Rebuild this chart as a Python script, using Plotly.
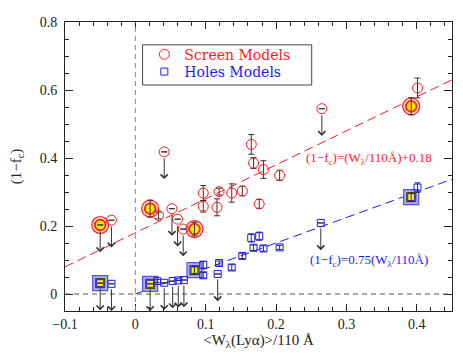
import plotly.graph_objects as go

# ---- Screen models (red circles) ----
scr_x = [-0.050, -0.034, 0.021, 0.033, 0.041, 0.052, 0.060, 0.068, 0.084, 0.0965, 0.0965, 0.116,
         0.119, 0.137, 0.152, 0.1647, 0.168, 0.176, 0.182, 0.205, 0.265, 0.392, 0.401]
scr_y = [0.203, 0.217, 0.251, 0.231, 0.418, 0.251, 0.220, 0.191, 0.191, 0.258, 0.297, 0.255,
         0.301, 0.297, 0.303, 0.440, 0.385, 0.265, 0.366, 0.349, 0.545, 0.552, 0.606]
scr_err = [0, 0, 0.025, 0.010, 0, 0, 0, 0, 0.020, 0.017, 0.022, 0.025,
           0.010, 0.027, 0.014, 0.029, 0.016, 0.013, 0.026, 0.015, 0, 0.025, 0.029]
scr_lim = [1, 1, 0, 0, 1, 1, 1, 1, 0, 0, 0, 0,
           0, 0, 0, 0, 0, 0, 0, 0, 1, 0, 0]
scr_hi = [1, 0, 1, 0, 0, 0, 0, 0, 1, 0, 0, 0,
          0, 0, 0, 0, 0, 0, 0, 0, 0, 1, 0]

# ---- Holes models (blue squares) ----
hol_x = [-0.050, -0.034, 0.021, 0.031, 0.041, 0.053, 0.061, 0.069, 0.084, 0.0965, 0.0965, 0.117,
         0.119, 0.137, 0.152, 0.1647, 0.168, 0.176, 0.182, 0.205, 0.2635, 0.392, 0.401]
hol_y = [0.032, 0.030, 0.030, 0.038, 0.033, 0.038, 0.040, 0.041, 0.070, 0.086, 0.055, 0.059,
         0.091, 0.078, 0.112, 0.165, 0.136, 0.170, 0.134, 0.137, 0.209, 0.285, 0.313]
hol_err = [0, 0, 0, 0.005, 0, 0, 0, 0, 0.010, 0.010, 0.008, 0,
           0.006, 0.008, 0.008, 0.012, 0.008, 0.012, 0.008, 0.006, 0, 0.012, 0.014]
hol_lim = [1, 1, 1, 0, 1, 1, 1, 1, 0, 0, 0, 1,
           0, 0, 0, 0, 0, 0, 0, 0, 1, 0, 0]
hol_hi = [1, 0, 1, 0, 0, 0, 0, 0, 1, 0, 0, 0,
          0, 0, 0, 0, 0, 0, 0, 0, 0, 1, 0]

series_names = ["Screen Models", "Holes Models"]

# fit lines: (1-fc) = slope * W + intercept
fit_red = dict(slope=1.0, intercept=0.18, x=[-0.1, 0.45])
fit_blue = dict(slope=0.75, intercept=0.0, x=[0.0, 0.45])
limit_drop = 0.08

x_ticks = [-0.1, 0, 0.1, 0.2, 0.3, 0.4]
y_ticks = [0, 0.2, 0.4, 0.6, 0.8]

RED = "#ff1a1a"
BLUE = "#1a1aff"
SERIF = "Liberation Serif"

fig = go.Figure()

# fit lines
for fit, col in [(fit_red, RED), (fit_blue, BLUE)]:
    fig.add_trace(go.Scatter(
        x=fit["x"], y=[fit["slope"] * v + fit["intercept"] for v in fit["x"]],
        mode="lines", line=dict(color=col, width=1, dash="9px,5px"),
        showlegend=False, hoverinfo="skip"))

# highlight backgrounds
hx = [x for x, h in zip(scr_x, scr_hi) if h]
hy = [y for y, h in zip(scr_y, scr_hi) if h]
fig.add_trace(go.Scatter(x=hx, y=hy, mode="markers", showlegend=False,
                         marker=dict(symbol="circle", size=17, color="#ffd0d0",
                                     line=dict(color=RED, width=1.2))))
fig.add_trace(go.Scatter(x=hx, y=hy, mode="markers", showlegend=False,
                         marker=dict(symbol="circle", size=11, color="#ffe600",
                                     line=dict(color="#e04000", width=1.5))))
bx = [x for x, h in zip(hol_x, hol_hi) if h]
by = [y for y, h in zip(hol_y, hol_hi) if h]
fig.add_trace(go.Scatter(x=bx, y=by, mode="markers", showlegend=False,
                         marker=dict(symbol="square", size=15, color="#b0b0ff",
                                     line=dict(color="#5050ff", width=1.2))))
fig.add_trace(go.Scatter(x=bx, y=by, mode="markers", showlegend=False,
                         marker=dict(symbol="square", size=9, color="#ffe600",
                                     line=dict(color="#505000", width=1.2))))

# main series
def errs(e):
    return [v if v > 0 else None for v in e]

fig.add_trace(go.Scatter(
    x=scr_x, y=scr_y, mode="markers", showlegend=False, name=series_names[0],
    marker=dict(symbol="circle-open", size=10, color=RED, line=dict(width=1)),
    error_y=dict(type="data", array=errs(scr_err), color="#333333", thickness=1, width=3)))
fig.add_trace(go.Scatter(
    x=hol_x, y=hol_y, mode="markers", showlegend=False, name=series_names[1],
    marker=dict(symbol="square-open", size=7, color=BLUE, line=dict(width=1)),
    error_y=dict(type="data", array=errs(hol_err), color="#333333", thickness=1, width=3)))

# legend keys (each in its own legend so the text can take the series colour)
for nm, col, sym, sz, lg in [(series_names[0], RED, "circle-open", 10, "legend"),
                             (series_names[1], BLUE, "square-open", 7, "legend2")]:
    fig.add_trace(go.Scatter(
        x=[None], y=[None], mode="markers", name=nm, legend=lg,
        marker=dict(symbol=sym, size=sz, color=col, line=dict(width=1))))

# upper-limit arrows
for xs, ys, lims, sso in [(scr_x, scr_y, scr_lim, 5), (hol_x, hol_y, hol_lim, 4)]:
    for x, y, l in zip(xs, ys, lims):
        if l:
            fig.add_annotation(x=x, y=y - limit_drop, ax=x, ay=y, xref="x", yref="y",
                               axref="x", ayref="y", showarrow=True, arrowhead=4,
                               arrowsize=1.4, arrowwidth=1, arrowcolor="#333333",
                               startstandoff=sso, text="")

# reference lines
fig.add_shape(type="line", x0=0, x1=0, y0=-0.05, y1=0.8, xref="x", yref="y",
              line=dict(color="#888888", width=1, dash="5px,4px"))
fig.add_shape(type="line", x0=-0.1, x1=0.45, y0=0, y1=0, xref="x", yref="y",
              line=dict(color="#555555", width=1, dash="5px,4px"))
# legend frame
fig.add_shape(type="rect", x0=0.2005, x1=0.6375, y0=0.782, y1=0.921,
              xref="paper", yref="paper", line=dict(color="#444444", width=1),
              fillcolor="white", layer="above")

# equation labels
fig.add_annotation(x=0.424, y=0.40, xref="x", yref="y", showarrow=False, xanchor="right",
                   text="(1−f<sub>c</sub>)=(W<sub>λ</sub>/110Å)+0.18",
                   font=dict(family=SERIF, size=13, color=RED))
fig.add_annotation(x=0.419, y=0.10, xref="x", yref="y", showarrow=False, xanchor="right",
                   text="(1−f<sub>c</sub>)=0.75(W<sub>λ</sub>/110Å)",
                   font=dict(family=SERIF, size=13, color=BLUE))

axis_common = dict(showline=True, linecolor="#222222", linewidth=1, mirror="allticks",
                   ticks="inside", tickcolor="#222222", showgrid=False, zeroline=False,
                   tickfont=dict(family=SERIF, size=14, color="#222222"))

fig.update_xaxes(range=[-0.1, 0.45], tickvals=x_ticks, ticklen=7,
                 minor=dict(dtick=0.02, tick0=0, ticklen=4, ticks="inside", tickcolor="#222222"),
                 title=dict(text="&lt;W<sub>λ</sub>(Lyα)&gt;/110 Å",
                            font=dict(family=SERIF, size=15, color="#222222"), standoff=0),
                 **axis_common)
fig.update_yaxes(range=[-0.05, 0.8], tickvals=y_ticks, ticklen=8, ticklabelstandoff=4,
                 minor=dict(dtick=0.05, tick0=0, ticklen=4, ticks="inside", tickcolor="#222222"),
                 title=dict(text="(1−f<sub>c</sub>)",
                            font=dict(family=SERIF, size=15, color="#222222"), standoff=14),
                 **axis_common)

leg_common = dict(xanchor="left", yanchor="middle", bgcolor="rgba(0,0,0,0)",
                  borderwidth=0, itemwidth=30)
# page body has an 8px default margin, so the figure is offset by 8px
fig.update_layout(
    width=455, height=349,
    margin=dict(l=55, r=11, t=7, b=46),
    plot_bgcolor="white", paper_bgcolor="white",
    legend=dict(x=0.205, y=0.887, font=dict(family="DejaVu Serif", size=14, color=RED),
                **leg_common),
    legend2=dict(x=0.205, y=0.827, font=dict(family="DejaVu Serif", size=14, color=BLUE),
                 **leg_common),
)

fig.write_html("out.html")
